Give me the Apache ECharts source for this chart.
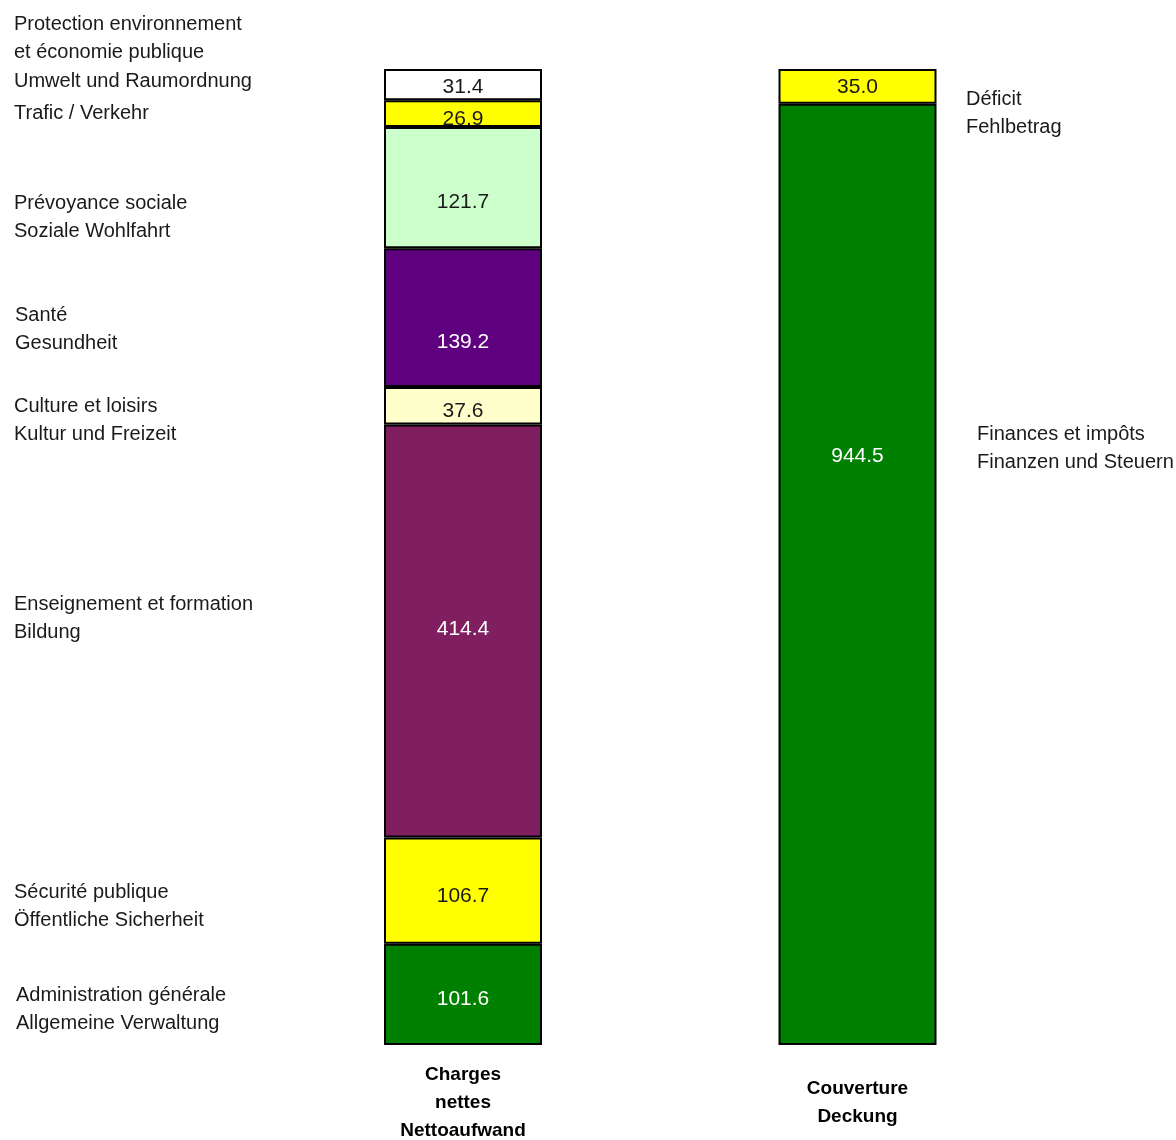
<!DOCTYPE html>
<html>
<head>
<meta charset="utf-8">
<script src="https://cdn.jsdelivr.net/npm/echarts@6/dist/echarts.min.js"></script>
<style>
html,body{margin:0;padding:0;background:#fff;}
#chart{width:1176px;height:1140px;}
</style>
</head>
<body>
<div id="chart"></div>
<script>
// ---- data ----
const categories = ['Charges\nnettes\nNettoaufwand', 'Couverture\nDeckung'];
// left stacked bar (bottom to top)
const chargeNames = [
  'Administration générale / Allgemeine Verwaltung',
  'Sécurité publique / Öffentliche Sicherheit',
  'Enseignement et formation / Bildung',
  'Culture et loisirs / Kultur und Freizeit',
  'Santé / Gesundheit',
  'Prévoyance sociale / Soziale Wohlfahrt',
  'Trafic / Verkehr',
  'Protection environnement et économie publique / Umwelt und Raumordnung'
];
const chargeValues = [101.6, 106.7, 414.4, 37.6, 139.2, 121.7, 26.9, 31.4];
// right stacked bar (bottom to top)
const coverNames = ['Finances et impôts / Finanzen und Steuern', 'Déficit / Fehlbetrag'];
const coverValues = [944.5, 35.0];

// ---- styles ----
const chargeColors = ['#008000', '#ffff00', '#7f1f5f', '#ffffcc', '#5f007f', '#ccffcc', '#ffff00', '#ffffff'];
const chargeLabelColors = ['#ffffff', '#1a1a1a', '#ffffff', '#1a1a1a', '#ffffff', '#1a1a1a', '#1a1a1a', '#1a1a1a'];
const chargeLabelOffsets = [5, 6, -2, 5, 24, 14, 6, 3];
const coverColors = ['#008000', '#ffff00'];
const coverLabelColors = ['#ffffff', '#1a1a1a'];
const coverLabelOffsets = [-118, 1];

const total = chargeValues.reduce((a, b) => a + b, 0);

const FONT = '"Liberation Sans", Arial, sans-serif';

function mkSeries(names, values, colors, lblColors, offsets, idx) {
  return values.map((v, i) => {
    const d = idx === 0 ? [v, '-'] : ['-', v];
    return {
      name: names[i],
      type: 'bar',
      stack: 'total',
      barWidth: 158,
      data: d,
      itemStyle: { color: colors[i], borderColor: '#000', borderWidth: 2 },
      label: {
        show: true,
        position: 'inside',
        offset: [0, offsets[i]],
        formatter: p => p.value.toFixed(1),
        color: lblColors[i],
        fontFamily: FONT,
        fontSize: 21
      },
      silent: true
    };
  });
}

const series = [
  ...mkSeries(chargeNames, chargeValues, chargeColors, chargeLabelColors, chargeLabelOffsets, 0),
  ...mkSeries(coverNames, coverValues, coverColors, coverLabelColors, coverLabelOffsets, 1)
];

// side annotations
const annotations = [
  { x: 14, y: 22, text: 'Protection environnement\net économie publique\nUmwelt und Raumordnung' },
  { x: 14, y: 111, text: 'Trafic / Verkehr' },
  { x: 14, y: 201, text: 'Prévoyance sociale\nSoziale Wohlfahrt' },
  { x: 15, y: 313, text: 'Santé\nGesundheit' },
  { x: 14, y: 404, text: 'Culture et loisirs\nKultur und Freizeit' },
  { x: 14, y: 602, text: 'Enseignement et formation\nBildung' },
  { x: 14, y: 890, text: 'Sécurité publique\nÖffentliche Sicherheit' },
  { x: 16, y: 993, text: 'Administration générale\nAllgemeine Verwaltung' },
  { x: 966, y: 97, text: 'Déficit\nFehlbetrag' },
  { x: 977, y: 432, text: 'Finances et impôts\nFinanzen und Steuern' }
];

const chart = echarts.init(document.getElementById('chart'), null, { renderer: 'canvas', width: 1176, height: 1140 });
chart.setOption({
  animation: false,
  backgroundColor: '#ffffff',
  grid: { left: 265.75, width: 789, top: 69, height: 976, containLabel: false, outerBoundsMode: 'none' },
  xAxis: {
    type: 'category',
    data: categories,
    axisLine: { show: false },
    axisTick: { show: false },
    axisLabel: {
      interval: 0,
      margin: 58,
      verticalAlign: 'middle',
      align: 'center',
      fontFamily: FONT,
      fontWeight: 'bold',
      fontSize: 19,
      lineHeight: 28,
      color: '#000'
    }
  },
  yAxis: {
    type: 'value',
    min: 0,
    max: total,
    show: false,
    splitLine: { show: false }
  },
  series: series,
  graphic: annotations.map(a => ({
    type: 'text',
    left: a.x,
    top: a.y - 12,
    silent: true,
    z: 10,
    style: {
      text: a.text,
      fontFamily: FONT,
      fontSize: 20,
      lineHeight: 28.5,
      fill: '#1a1a1a'
    }
  }))
});
</script>
</body>
</html>
